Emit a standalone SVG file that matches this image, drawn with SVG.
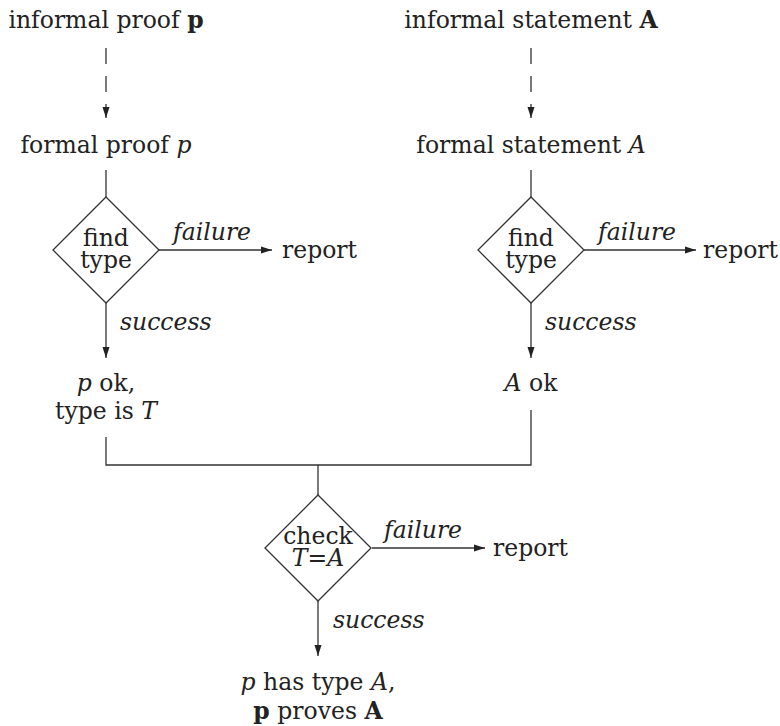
<svg xmlns="http://www.w3.org/2000/svg" width="780" height="726" viewBox="0 0 780 726">
<defs>
<marker id="ah" markerWidth="12" markerHeight="8" refX="11" refY="4" orient="auto" markerUnits="userSpaceOnUse">
<path d="M0,0.5 L11,4 L0,7.5 Z" fill="#222"/>
</marker>
<style>
.c{text-anchor:middle}
.i{font-style:italic}
.b{font-weight:bold}
.ln{stroke:#333;stroke-width:1.3;fill:none}
.dia{stroke:#333;stroke-width:1.3;fill:#fff}
</style>
</defs>
<rect width="780" height="726" fill="#fff"/>
<g font-family="'DejaVu Serif', 'Liberation Serif', serif" font-size="23.5" fill="#222">
<g id="connectors">
<line class="ln" x1="106" y1="48" x2="106" y2="118" stroke-dasharray="16 12" marker-end="url(#ah)"/>
<line class="ln" x1="531" y1="48" x2="531" y2="118" stroke-dasharray="16 12" marker-end="url(#ah)"/>
<line class="ln" x1="106" y1="170" x2="106" y2="197"/>
<line class="ln" x1="531" y1="170" x2="531" y2="197"/>
<line class="ln" x1="159" y1="250" x2="272" y2="250" marker-end="url(#ah)"/>
<line class="ln" x1="584" y1="250" x2="696" y2="250" marker-end="url(#ah)"/>
<line class="ln" x1="106" y1="303" x2="106" y2="358" marker-end="url(#ah)"/>
<line class="ln" x1="531" y1="303" x2="531" y2="358" marker-end="url(#ah)"/>
<polyline class="ln" points="106,437 106,465 531,465 531,410"/>
<line class="ln" x1="318" y1="465" x2="318" y2="495"/>
<line class="ln" x1="372" y1="548" x2="485" y2="548" marker-end="url(#ah)"/>
<line class="ln" x1="318" y1="601" x2="318" y2="656" marker-end="url(#ah)"/>
<text class="i" x="173" y="240">failure</text>
<text class="i" x="598" y="240">failure</text>
<text class="i" x="384" y="538">failure</text>
<text class="i" x="120" y="330">success</text>
<text class="i" x="545" y="330">success</text>
<text class="i" x="333" y="628">success</text>
</g>
<g id="informal-proof"><text class="c" x="106" y="28">informal proof <tspan class="b">p</tspan></text></g>
<g id="informal-statement"><text class="c" x="531" y="28">informal statement <tspan class="b">A</tspan></text></g>
<g id="formal-proof"><text class="c" x="106" y="153">formal proof <tspan class="i">p</tspan></text></g>
<g id="formal-statement"><text class="c" x="531" y="153">formal statement <tspan class="i">A</tspan></text></g>
<g id="find-type-1">
<polygon class="dia" points="106,197 159,250 106,303 53,250"/>
<text class="c"><tspan x="106" y="246">find</tspan><tspan x="106" y="268">type</tspan></text>
</g>
<g id="find-type-2">
<polygon class="dia" points="531,197 584,250 531,303 478,250"/>
<text class="c"><tspan x="531" y="246">find</tspan><tspan x="531" y="268">type</tspan></text>
</g>
<g id="report-1"><text x="282" y="258">report</text></g>
<g id="report-2"><text x="703" y="258">report</text></g>
<g id="p-ok">
<text class="c"><tspan x="106" y="391"><tspan class="i">p</tspan> ok,</tspan><tspan x="106" y="419">type is <tspan class="i">T</tspan></tspan></text>
</g>
<g id="a-ok"><text class="c" x="531" y="391"><tspan class="i">A</tspan> ok</text></g>
<g id="check">
<polygon class="dia" points="318,495 371,548 318,601 265,548"/>
<text class="c"><tspan x="318" y="544">check</tspan><tspan x="318" y="566"><tspan class="i">T</tspan>=<tspan class="i">A</tspan></tspan></text>
</g>
<g id="report-3"><text x="493" y="556">report</text></g>
<g id="result">
<text class="c"><tspan x="318" y="690"><tspan class="i">p</tspan> has type <tspan class="i">A</tspan>,</tspan><tspan x="318" y="719"><tspan class="b">p</tspan> proves <tspan class="b">A</tspan></tspan></text>
</g>
</g>
</svg>
